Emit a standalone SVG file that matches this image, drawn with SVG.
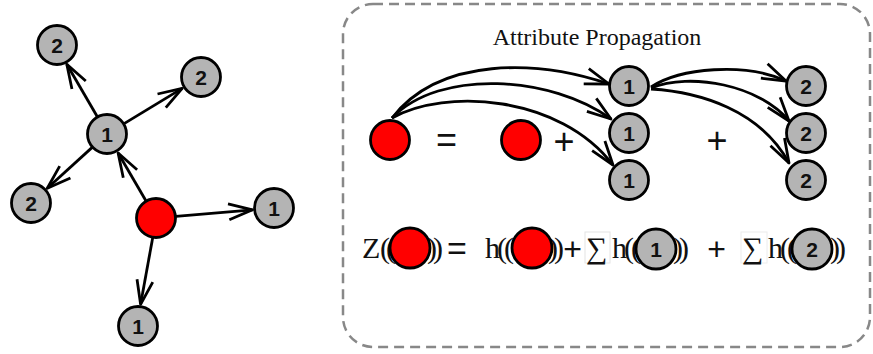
<svg xmlns="http://www.w3.org/2000/svg" width="873" height="354" viewBox="0 0 873 354">
<style>
.n circle{stroke:#000;stroke-width:2.8}
.g{fill:#b4b4b4}
.r{fill:#ff0000}
.lbl{font-family:"Liberation Sans",Arial,sans-serif;font-weight:bold;font-size:21px;text-anchor:middle;fill:#111}
.e{fill:none;stroke:#000;stroke-width:2.8;marker-end:url(#ah)}
.serif{font-family:"Liberation Serif","Times New Roman",serif;fill:#111}
.f{font-size:30px}
.p3{letter-spacing:-3px}
.p4{letter-spacing:-4px}
.op{font-family:"Liberation Sans",Arial,sans-serif;fill:#111;text-anchor:middle}
</style>
<defs>
<marker id="ah" viewBox="-28 -12 32 24" refX="0" refY="0" markerWidth="32" markerHeight="24" markerUnits="userSpaceOnUse" orient="auto">
<path d="M-24,-8 L0,0 L-24,8" fill="none" stroke="#000" stroke-width="2.8" stroke-linejoin="round" stroke-linecap="butt"/>
</marker>
</defs>
<rect x="0" y="0" width="873" height="354" fill="#fff"/>

<!-- Left graph connectors -->
<g id="left-edges">
<line class="e" x1="97.2" y1="116.5" x2="66.8" y2="64.2"/>
<line class="e" x1="124.1" y1="123.6" x2="182.2" y2="88.4"/>
<line class="e" x1="92.2" y1="147.4" x2="47.3" y2="188.2"/>
<line class="e" x1="145.9" y1="200.7" x2="118.1" y2="153"/>
<line class="e" x1="175.9" y1="216.3" x2="252.6" y2="209.8"/>
<line class="e" x1="152.7" y1="237.7" x2="140.6" y2="304.3"/>
</g>

<!-- Left graph nodes -->
<g id="L-A" class="n"><circle class="g" cx="57" cy="45" r="19.5"/><text class="lbl" x="57" y="52.5">2</text></g>
<g id="L-B" class="n"><circle class="g" cx="201" cy="77" r="19.5"/><text class="lbl" x="201" y="84.5">2</text></g>
<g id="L-C" class="n"><circle class="g" cx="107" cy="134" r="19.5"/><text class="lbl" x="107" y="141.5">1</text></g>
<g id="L-D" class="n"><circle class="g" cx="31" cy="203" r="19.5"/><text class="lbl" x="31" y="210.5">2</text></g>
<g id="L-R" class="n"><circle class="r" cx="156" cy="218" r="19.5"/></g>
<g id="L-E" class="n"><circle class="g" cx="274" cy="208" r="19.5"/><text class="lbl" x="274" y="215.5">1</text></g>
<g id="L-F" class="n"><circle class="g" cx="138" cy="326" r="19.5"/><text class="lbl" x="138" y="333.5">1</text></g>

<!-- Right panel -->
<g id="panel">
<rect x="343" y="4" width="527" height="343" rx="30" ry="30" fill="none" stroke="#888" stroke-width="2.5" stroke-dasharray="10 6"/>
<text class="serif" x="597" y="45" font-size="24" text-anchor="middle">Attribute Propagation</text>
</g>

<g id="right-edges">
<path class="e" d="M392,118 C440,56 538,60 609,84"/>
<path class="e" d="M392,118 C440,68 552,76 611,119"/>
<path class="e" d="M392,118 C445,88 560,95 613,165"/>
<path class="e" d="M651,87 C680,68 745,62 786,81"/>
<path class="e" d="M651,88 C690,72 760,85 789,121"/>
<path class="e" d="M651,89 C700,92 760,110 789,163"/>
</g>

<g id="R-red1" class="n"><circle class="r" cx="390" cy="140" r="19.5"/></g>
<text class="op" x="446.5" y="152" font-size="36">=</text>
<g id="R-red2" class="n"><circle class="r" cx="521" cy="140" r="19.5"/></g>
<text class="op" x="564" y="154" font-size="36">+</text>
<g id="R-1a" class="n"><circle class="g" cx="629" cy="86" r="19.5"/><text class="lbl" x="629" y="93.5">1</text></g>
<g id="R-1b" class="n"><circle class="g" cx="629" cy="133" r="19.5"/><text class="lbl" x="629" y="140.5">1</text></g>
<g id="R-1c" class="n"><circle class="g" cx="629" cy="180" r="19.5"/><text class="lbl" x="629" y="187.5">1</text></g>
<text class="op" x="717" y="153" font-size="36">+</text>
<g id="R-2a" class="n"><circle class="g" cx="806" cy="86" r="19.5"/><text class="lbl" x="806" y="93.5">2</text></g>
<g id="R-2b" class="n"><circle class="g" cx="806" cy="133" r="19.5"/><text class="lbl" x="806" y="140.5">2</text></g>
<g id="R-2c" class="n"><circle class="g" cx="806" cy="180" r="19.5"/><text class="lbl" x="806" y="187.5">2</text></g>

<!-- Formula -->
<g id="formula">
<rect x="585" y="232" width="25" height="31" fill="none" stroke="#e4e4e4" stroke-width="1"/>
<rect x="741" y="232" width="26" height="31" fill="none" stroke="#ececec" stroke-width="1"/>
<text class="serif f" x="362" y="258">Z</text>
<text class="serif f p4" x="380" y="258">((</text>
<text class="serif f p4" x="427" y="258">))</text>
<g id="F-red1" class="n"><circle class="r" cx="410" cy="248" r="20"/></g>
<text class="op" x="457" y="260" font-size="34">=</text>
<text class="serif f p3" x="485" y="258">h((</text>
<text class="serif f p4" x="548" y="258">))</text>
<g id="F-red2" class="n"><circle class="r" cx="532" cy="248" r="20"/></g>
<text class="op" x="572.5" y="260" font-size="32">+</text>
<text class="serif f" x="586" y="258">∑</text>
<text class="serif f p3" x="612" y="258">h((</text>
<text class="serif f p4" x="673" y="258">))</text>
<g id="F-g1" class="n"><circle class="g" cx="656" cy="249" r="20"/><text class="lbl" x="656" y="256.5">1</text></g>
<text class="op" x="716.5" y="260" font-size="32">+</text>
<text class="serif f" x="742" y="258">∑</text>
<text class="serif f p3" x="768" y="258">h((</text>
<text class="serif f p4" x="830" y="258">))</text>
<g id="F-g2" class="n"><circle class="g" cx="812" cy="249" r="20"/><text class="lbl" x="812" y="256.5">2</text></g>
</g>
</svg>
